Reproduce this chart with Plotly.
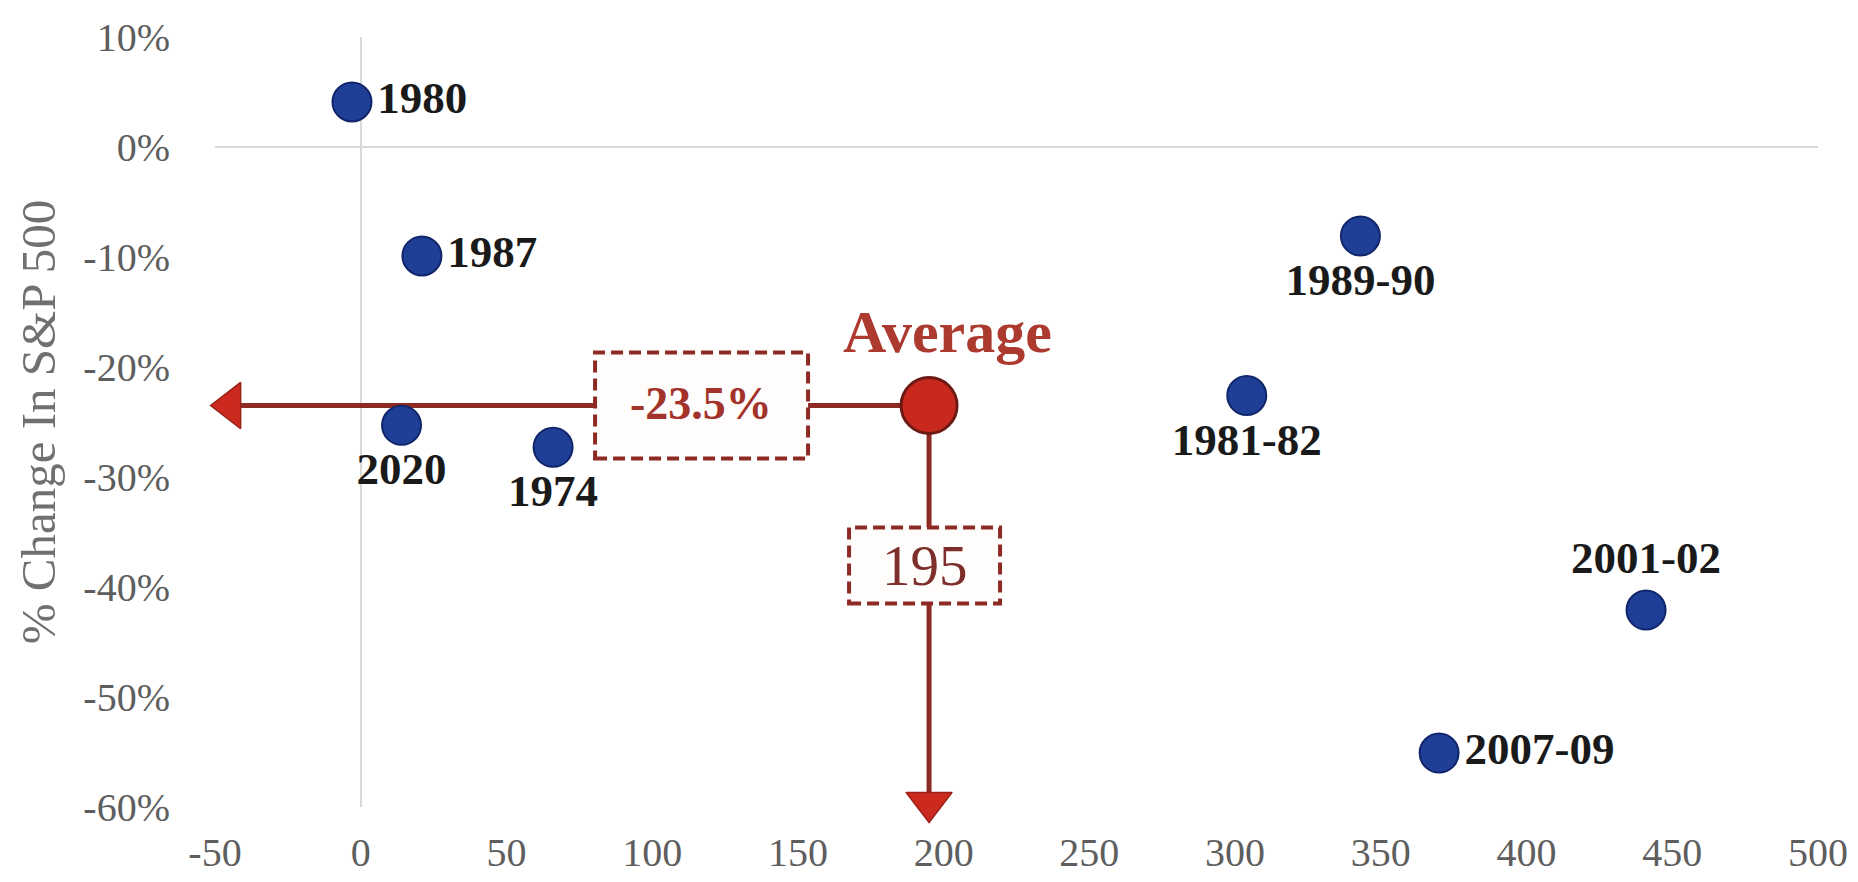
import plotly.graph_objects as go

# ---------------- data ----------------
EPISODES = ["1980", "1987", "2020", "1974", "1989-90", "1981-82", "2001-02", "2007-09"]
DAYS = [-3, 21, 14, 66, 343, 304, 441, 370]
CHANGE = [4.1, -9.9, -25.3, -27.3, -8.1, -22.6, -42.1, -55.1]
LABEL_POS = ["middle right", "middle right", "bottom center", "bottom center",
             "bottom center", "bottom center", "top center", "middle right"]

AVG_DAYS = 195
AVG_CHANGE = -23.5
AVG_NAME = "Average"

X_TICKS = [-50, 0, 50, 100, 150, 200, 250, 300, 350, 400, 450, 500]
X_TICK_TEXT = ["-50", "0", "50", "100", "150", "200", "250", "300", "350", "400", "450", "500"]
Y_TICKS = [10, 0, -10, -20, -30, -40, -50, -60]
Y_TICK_TEXT = ["10%", "0%", "-10%", "-20%", "-30%", "-40%", "-50%", "-60%"]
Y_TITLE = "% Change In S&P 500"

# ---------------- layout constants ----------------
# page body has an 8px default margin, so the figure is 16px smaller than the window
W, H = 1842, 866
ML, MR, MT, MB = 207, 32, 29, 67
X_RANGE = [-50, 500]
Y_RANGE = [-60, 10]
PX_X = (W - ML - MR) / (X_RANGE[1] - X_RANGE[0])
PX_Y = (H - MT - MB) / (Y_RANGE[1] - Y_RANGE[0])

SERIF = "Liberation Serif, Times New Roman, serif"
DARK_RED = "#8e2a24"
BRIGHT_RED = "#cc2a1f"
HEAD_SIZE = 40
LEFT_TIP = -51.5      # x value where the horizontal arrow ends
DOWN_TIP = -61.4      # y value where the vertical arrow ends
left_head_x = LEFT_TIP + (HEAD_SIZE / 2) / PX_X
down_head_y = DOWN_TIP + (HEAD_SIZE / 2) / PX_Y

fig = go.Figure()

# episode points
fig.add_trace(go.Scatter(
    x=DAYS, y=CHANGE, mode="markers+text", text=EPISODES, textposition=LABEL_POS,
    textfont=dict(family=SERIF, size=45, color="#1a1a1a", weight="bold"),
    marker=dict(size=39, color="#1e3f95", line=dict(color="#10256a", width=2)),
    cliponaxis=False, hoverinfo="skip", showlegend=False,
))

# average point
fig.add_trace(go.Scatter(
    x=[AVG_DAYS], y=[AVG_CHANGE], mode="markers",
    marker=dict(size=56, color="#c9281e", line=dict(color="#6e1a14", width=3)),
    cliponaxis=False, hoverinfo="skip", showlegend=False,
))

# arrowheads
fig.add_trace(go.Scatter(
    x=[left_head_x, AVG_DAYS], y=[AVG_CHANGE, down_head_y], mode="markers",
    marker=dict(size=HEAD_SIZE, symbol=["triangle-left", "triangle-down"],
                color=BRIGHT_RED, line=dict(color="#9a2018", width=1.5)),
    cliponaxis=False, hoverinfo="skip", showlegend=False,
))

# connector lines
fig.add_shape(type="line", xref="x", yref="y", x0=AVG_DAYS, y0=AVG_CHANGE,
              x1=left_head_x, y1=AVG_CHANGE, line=dict(color=DARK_RED, width=5), layer="between")
fig.add_shape(type="line", xref="x", yref="y", x0=AVG_DAYS, y0=AVG_CHANGE,
              x1=AVG_DAYS, y1=down_head_y, line=dict(color=DARK_RED, width=5), layer="between")

# dashed value boxes (pixel-sized, anchored at the average point)
fig.add_shape(type="rect", xref="x", yref="y", xsizemode="pixel", ysizemode="pixel",
              xanchor=AVG_DAYS, yanchor=AVG_CHANGE, x0=-334, x1=-121, y0=-53, y1=53,
              line=dict(color=DARK_RED, width=4, dash="12px,6px"), fillcolor="#fffdfc",
              layer="between")
fig.add_shape(type="rect", xref="x", yref="y", xsizemode="pixel", ysizemode="pixel",
              xanchor=AVG_DAYS, yanchor=AVG_CHANGE, x0=-80, x1=71, y0=-198, y1=-122,
              line=dict(color=DARK_RED, width=4, dash="12px,6px"), fillcolor="#fffdfc",
              layer="between")

# texts
fig.add_annotation(x=AVG_DAYS, y=AVG_CHANGE, xref="x", yref="y", text=AVG_NAME,
                   showarrow=False, xshift=18, yshift=74,
                   font=dict(family=SERIF, size=60, color="#ad3a2f", weight="bold"))
fig.add_annotation(x=AVG_DAYS, y=AVG_CHANGE, xref="x", yref="y", text=f"{AVG_CHANGE}%",
                   showarrow=False, xshift=-228, yshift=2,
                   font=dict(family=SERIF, size=46, color="#a3322b", weight="bold"))
fig.add_annotation(x=AVG_DAYS, y=AVG_CHANGE, xref="x", yref="y", text=f"{AVG_DAYS}",
                   showarrow=False, xshift=-4, yshift=-160,
                   font=dict(family=SERIF, size=57, color="#7d2d2a"))

fig.update_layout(
    width=W, height=H, margin=dict(l=ML, r=MR, t=MT, b=MB, autoexpand=False),
    paper_bgcolor="white", plot_bgcolor="white", showlegend=False,
    xaxis=dict(range=X_RANGE, tickvals=X_TICKS, ticktext=X_TICK_TEXT, showgrid=False,
               zeroline=True, zerolinecolor="#d9d9d9", zerolinewidth=2, showline=False,
               ticks="", ticklabelstandoff=18,
               tickfont=dict(family=SERIF, size=40, color="#5e5e5e"), fixedrange=True),
    yaxis=dict(range=Y_RANGE, tickvals=Y_TICKS, ticktext=Y_TICK_TEXT, showgrid=False,
               zeroline=True, zerolinecolor="#d9d9d9", zerolinewidth=2, showline=False,
               ticks="", ticklabelstandoff=44,
               tickfont=dict(family=SERIF, size=40, color="#5e5e5e"), fixedrange=True,
               title=dict(text=Y_TITLE, standoff=12,
                          font=dict(family=SERIF, size=49, color="#707070"))),
)

fig.write_html("out.html")
